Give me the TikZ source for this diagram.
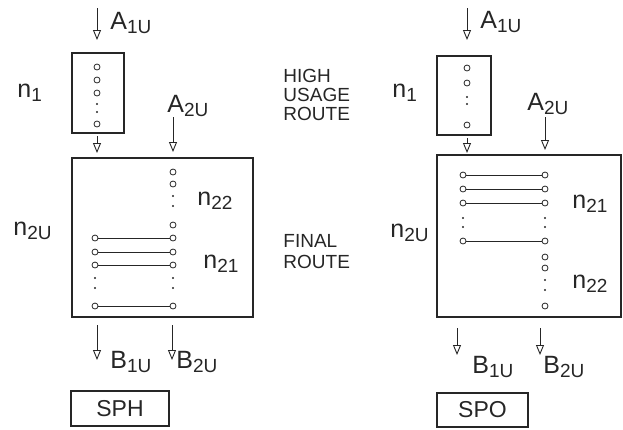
\documentclass[tikz,border=0pt]{standalone}
\usepackage{fontspec}
\setmainfont{Liberation Sans}
\usetikzlibrary{arrows.meta}
\newcommand\lsub[2]{#1\raisebox{-4pt}{\fontsize{19}{19}\selectfont #2}}

\begin{document}
\begin{tikzpicture}[
  x=1pt, y=-1pt,
  line width=0.9pt, color=black!85,
  box/.style={draw, line width=1.2pt, inner sep=0pt},
  port/.style={circle, draw, fill=white, inner sep=0pt, minimum size=6pt, line width=0.8pt},
  pdot/.style={circle, fill, inner sep=0pt, minimum size=2.2pt},
  flow/.style={-{Triangle[open, length=10pt, width=8pt]}},
  lab/.style={font=\fontsize{25}{25}\selectfont, anchor=base west, inner sep=0pt},
  word/.style={font=\fontsize{19}{19}\selectfont, anchor=base west, inner sep=0pt},
  tag/.style={draw, line width=1.2pt, font=\fontsize{23}{23}\selectfont, inner sep=0pt}
]
  \useasboundingbox (0,0) rectangle (623,429);

  % SPH
  \node[box, minimum width=52pt, minimum height=80pt] (sph-n1) at (98,93) {};
  \node[box, minimum width=181pt, minimum height=159pt] (sph-n2) at (162.5,237.5) {};
  \foreach \i/\y in {1/67, 2/80, 3/93, 4/124} {
    \node[port] (sph-c\i) at (97,\y) {};
  }
  \foreach \i/\y in {1/104, 2/112} {
    \node[pdot] (sph-d\i) at (97,\y) {};
  }
  \foreach \i/\y in {1/172, 2/184, 3/225} {
    \node[port] (sph-k\i) at (173,\y) {};
  }
  \foreach \i/\y in {1/196, 2/206} {
    \node[pdot] (sph-e\i) at (173,\y) {};
  }
  \foreach \i/\y in {1/238, 2/252, 3/265, 4/306} {
    \node[port] (sph-l\i) at (95,\y) {};
    \node[port] (sph-r\i) at (173,\y) {};
    \draw (sph-l\i) -- (sph-r\i);
  }
  \foreach \i/\y in {1/278, 2/288} {
    \node[pdot] (sph-f\i) at (95,\y) {};
    \node[pdot] (sph-g\i) at (173,\y) {};
  }
  \foreach \n/\x/\ya/\yb in {a1/97/8/40, out/97/136/153, a2/173/117/152, b1/97/325/360, b2/172/325/360} {
    \coordinate (sph-\n s) at (\x,\ya);
    \coordinate (sph-\n e) at (\x,\yb);
    \draw[flow] (sph-\n s) -- (sph-\n e);
  }
  \node[lab] (sph-la1) at (110,29) {\lsub{A}{1U}};
  \node[lab] (sph-ln1) at (17,97) {\lsub{n}{1}};
  \node[lab] (sph-la2) at (167,112) {\lsub{A}{2U}};
  \node[lab] (sph-ln22) at (197,205) {\lsub{n}{22}};
  \node[lab] (sph-ln21) at (203,268) {\lsub{n}{21}};
  \node[lab] (sph-ln2) at (13,235) {\lsub{n}{2U}};
  \node[lab] (sph-lb1) at (110,368) {\lsub{B}{1U}};
  \node[lab] (sph-lb2) at (176,368) {\lsub{B}{2U}};
  \node[tag, minimum width=98pt, minimum height=35pt] (sph-tag) at (120,408.5) {SPH};

  % route names
  \foreach \y/\t in {82/HIGH, 101/USAGE, 120/ROUTE, 247/FINAL, 268/ROUTE} {
    \node[word] (rt-\y) at (283,\y) {\t};
  }

  % SPO
  \node[box, minimum width=54pt, minimum height=79pt] (spo-n1) at (464,95.5) {};
  \node[box, minimum width=184pt, minimum height=162pt] (spo-n2) at (529,236) {};
  \foreach \i/\y in {1/68, 2/83, 3/125} {
    \node[port] (spo-c\i) at (467,\y) {};
  }
  \foreach \i/\y in {1/97, 2/104} {
    \node[pdot] (spo-d\i) at (467,\y) {};
  }
  \foreach \i/\y in {1/175, 2/189, 3/203, 4/241} {
    \node[port] (spo-l\i) at (463,\y) {};
    \node[port] (spo-r\i) at (545,\y) {};
    \draw (spo-l\i) -- (spo-r\i);
  }
  \foreach \i/\y in {1/218, 2/227} {
    \node[pdot] (spo-f\i) at (463,\y) {};
    \node[pdot] (spo-g\i) at (545,\y) {};
  }
  \foreach \i/\y in {1/257, 2/268, 3/306} {
    \node[port] (spo-k\i) at (545,\y) {};
  }
  \foreach \i/\y in {1/280, 2/290} {
    \node[pdot] (spo-e\i) at (545,\y) {};
  }
  \foreach \n/\x/\ya/\yb in {a1/467/8/40, out/467/138/153, a2/545/117/150, b1/457/328/355, b2/540/328/355} {
    \coordinate (spo-\n s) at (\x,\ya);
    \coordinate (spo-\n e) at (\x,\yb);
    \draw[flow] (spo-\n s) -- (spo-\n e);
  }
  \node[lab] (spo-la1) at (480,28) {\lsub{A}{1U}};
  \node[lab] (spo-ln1) at (392,97) {\lsub{n}{1}};
  \node[lab] (spo-la2) at (527,110) {\lsub{A}{2U}};
  \node[lab] (spo-ln21) at (572,208) {\lsub{n}{21}};
  \node[lab] (spo-ln22) at (572,288) {\lsub{n}{22}};
  \node[lab] (spo-ln2) at (390,237) {\lsub{n}{2U}};
  \node[lab] (spo-lb1) at (472,373) {\lsub{B}{1U}};
  \node[lab] (spo-lb2) at (543,373) {\lsub{B}{2U}};
  \node[tag, minimum width=91pt, minimum height=34pt] (spo-tag) at (482.5,410) {SPO};
\end{tikzpicture}
\end{document}
